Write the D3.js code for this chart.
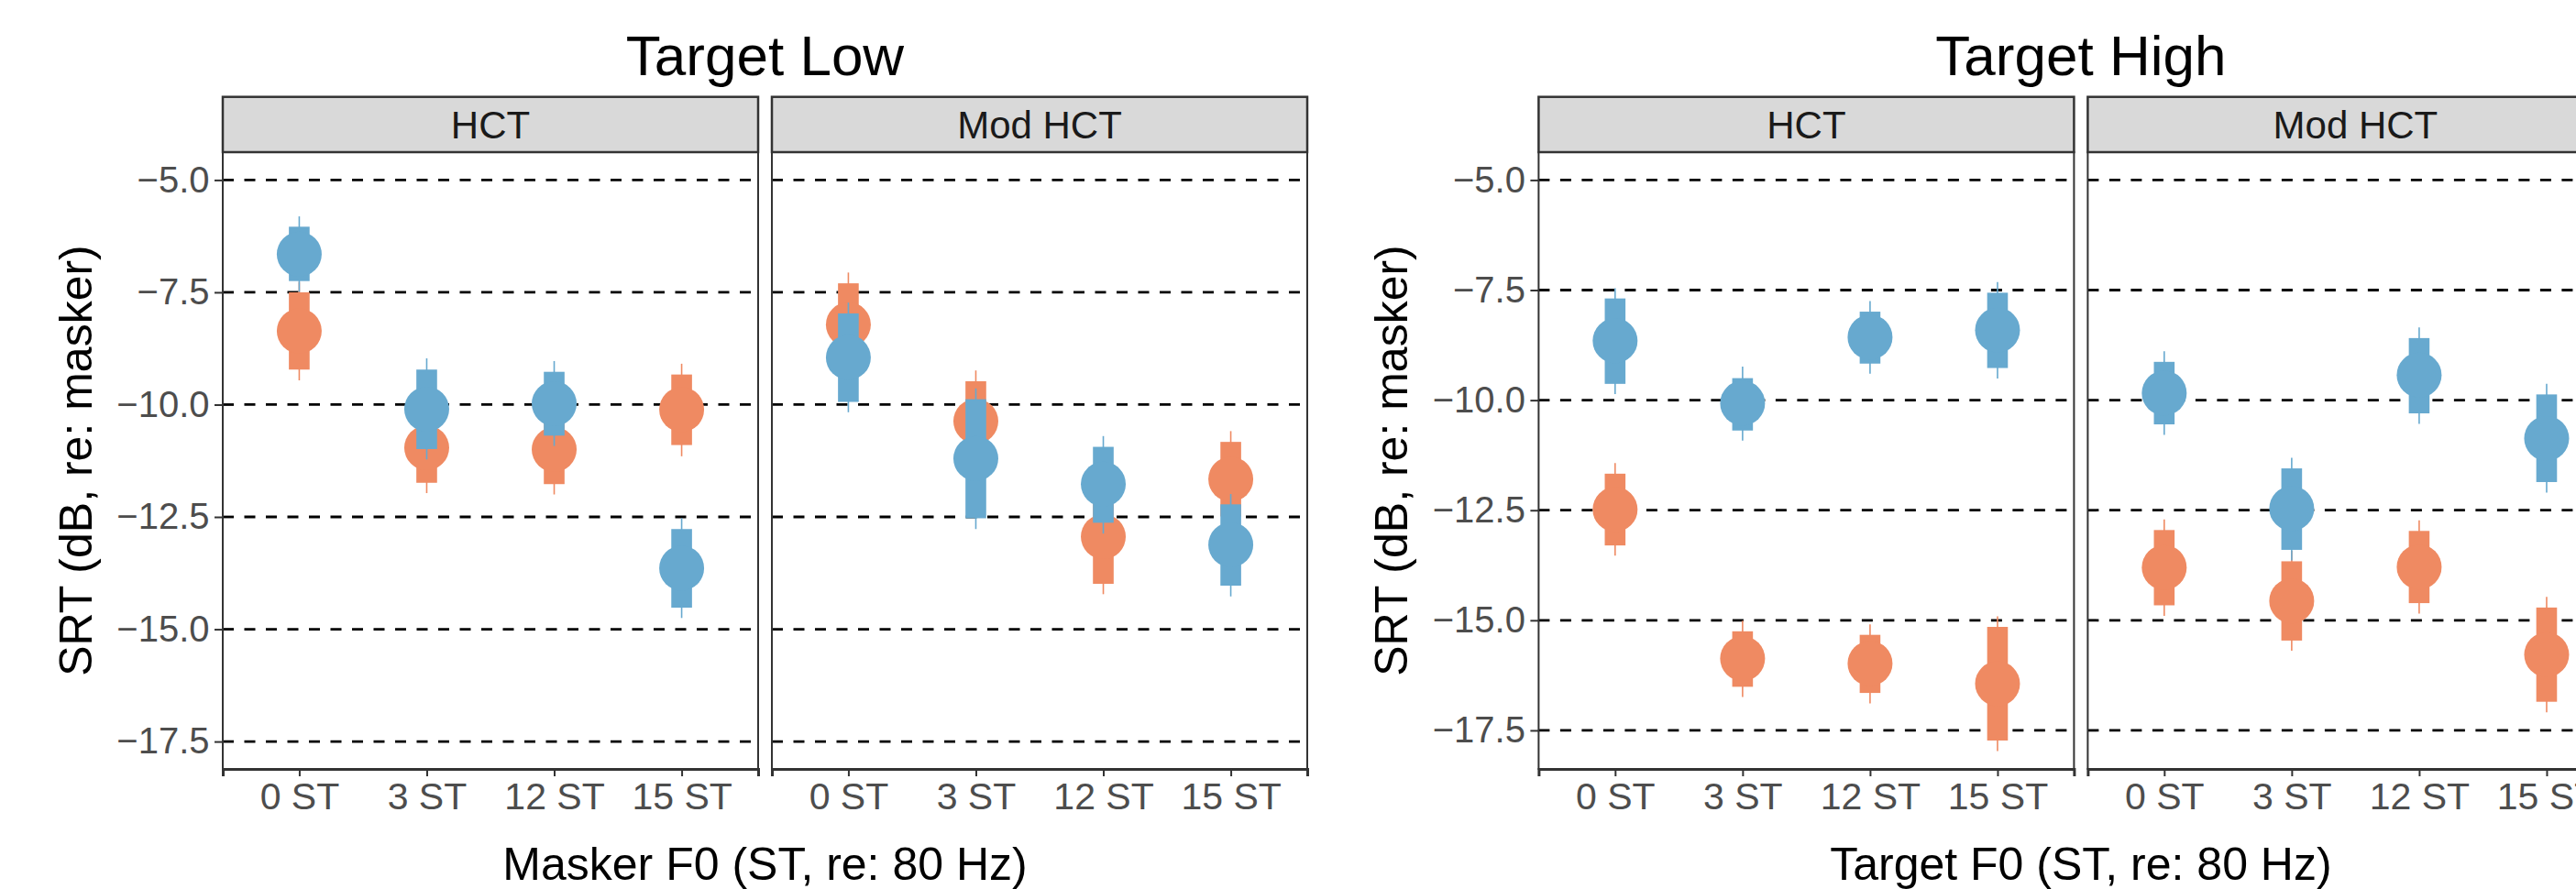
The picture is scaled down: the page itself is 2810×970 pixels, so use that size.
<!DOCTYPE html>
<html>
<head>
<meta charset="utf-8">
<script src="https://cdn.jsdelivr.net/npm/d3@7"></script>
<style>
  html, body { margin: 0; padding: 0; background: #fff; }
  svg { display: block; font-family: "Liberation Sans", Arial, sans-serif; }
</style>
</head>
<body>
<div id="chart"></div>
<script>
// x categories and y ticks
const f0Labels = ['0 ST', '3 ST', '12 ST', '15 ST'];
const yTicks = [-5, -7.5, -10, -12.5, -15, -17.5];
const panelNames = ['HCT', 'Mod HCT'];

// each row: [median, thick low, thick high, thin low, thin high] per F0 category
// Target Low
const lowHctOrange = [[-8.36, -7.50, -9.22, -7.27, -9.46], [-10.96, -10.18, -11.74, -9.95, -11.97], [-11.00, -10.23, -11.77, -10.00, -12.00], [-10.11, -9.33, -10.90, -9.09, -11.15]];
const lowHctBlue = [[-6.65, -6.04, -7.25, -5.81, -7.49], [-10.10, -9.22, -10.99, -8.97, -11.22], [-9.98, -9.27, -10.69, -9.03, -10.92], [-13.64, -12.77, -14.52, -12.53, -14.75]];
const lowModOrange = [[-8.22, -7.30, -9.14, -7.06, -9.38], [-10.37, -9.48, -11.26, -9.24, -11.50], [-12.94, -11.89, -13.99, -11.66, -14.22], [-11.66, -10.83, -12.49, -10.59, -12.73]];
const lowModBlue = [[-8.95, -7.97, -9.94, -7.73, -10.17], [-11.20, -9.88, -12.53, -9.64, -12.77], [-11.77, -10.94, -12.63, -10.70, -12.87], [-13.12, -12.22, -14.03, -11.99, -14.27]];
// Target High
const highHctOrange = [[-12.48, -11.67, -13.30, -11.43, -13.53], [-15.87, -15.25, -16.51, -15.01, -16.74], [-15.98, -15.33, -16.65, -15.09, -16.89], [-16.44, -15.15, -17.73, -14.91, -17.97]];
const highHctBlue = [[-8.65, -7.69, -9.63, -7.46, -9.86], [-10.07, -9.50, -10.69, -9.24, -10.92], [-8.57, -7.99, -9.17, -7.75, -9.40], [-8.41, -7.56, -9.27, -7.32, -9.51]];
const highModOrange = [[-13.80, -12.95, -14.66, -12.71, -14.90], [-14.56, -13.66, -15.46, -13.42, -15.69], [-13.79, -12.97, -14.61, -12.73, -14.85], [-15.78, -14.71, -16.85, -14.47, -17.09]];
const highModBlue = [[-9.84, -9.13, -10.55, -8.89, -10.79], [-12.46, -11.55, -13.40, -11.31, -13.64], [-9.43, -8.59, -10.30, -8.35, -10.54], [-10.87, -9.87, -11.86, -9.63, -12.10]];

const orange = '#EF8A62';
const blue = '#67A9CF';

const width = 2810, height = 970;
const panelW = 584, panelGap = 15;
const stripTop = 105.7, panelTop = 166, panelBottom = 839;

const charts = [
    { title: 'Target Low', xTitle: 'Masker F0 (ST, re: 80 Hz)', left: 243, yDomain: [-18.11, -4.38],
      panels: [[lowHctOrange, lowHctBlue], [lowModOrange, lowModBlue]] },
    { title: 'Target High', xTitle: 'Target F0 (ST, re: 80 Hz)', left: 1678.4, yDomain: [-18.376, -4.367],
      panels: [[highHctOrange, highHctBlue], [highModOrange, highModBlue]] }
];

const svg = d3.select('#chart')
    .append('svg')
    .attr('width', width)
    .attr('height', height)
    .attr('viewBox', `0 0 ${width} ${height}`);

svg.append('rect').attr('width', width).attr('height', height).attr('fill', '#fff');

charts.forEach(chart => {
    const g = svg.append('g');
    const y = d3.scaleLinear().domain(chart.yDomain).range([panelBottom, panelTop]);
    const totalW = panelW * 2 + panelGap;
    const centerX = chart.left + totalW / 2;

    // Title
    g.append('text')
        .attr('x', centerX)
        .attr('y', 81.7)
        .attr('text-anchor', 'middle')
        .attr('font-size', 62)
        .attr('fill', '#000')
        .text(chart.title);

    // Y axis title
    g.append('text')
        .attr('transform', `translate(${chart.left - 143}, ${(panelTop + panelBottom) / 2}) rotate(-90)`)
        .attr('text-anchor', 'middle')
        .attr('font-size', 50)
        .attr('fill', '#000')
        .text('SRT (dB, re: masker)');

    // X axis title
    g.append('text')
        .attr('x', centerX)
        .attr('y', 960)
        .attr('text-anchor', 'middle')
        .attr('font-size', 50)
        .attr('fill', '#000')
        .text(chart.xTitle);

    // Y axis (only left of the first panel)
    const yAxis = g.append('g')
        .attr('transform', `translate(${chart.left}, 0)`)
        .call(d3.axisLeft(y).tickValues(yTicks).tickFormat(d3.format('.1f')).tickSize(9).tickPadding(5.5));
    yAxis.select('.domain').remove();
    yAxis.selectAll('.tick line').attr('stroke', '#333').attr('stroke-width', 2);
    yAxis.selectAll('.tick text')
        .attr('font-size', 40)
        .attr('fill', '#4D4D4D')
        .attr('font-family', '"Liberation Sans", Arial, sans-serif')
        .text(d => d3.format('.1f')(d).replace('-', '\u2212'));

    chart.panels.forEach((groups, pi) => {
        const px = chart.left + pi * (panelW + panelGap);
        const x = d3.scalePoint().domain(f0Labels).range([px, px + panelW]).padding(0.6);
        const pg = g.append('g');

        // Strip
        pg.append('rect')
            .attr('x', px)
            .attr('y', stripTop)
            .attr('width', panelW)
            .attr('height', panelTop - stripTop)
            .attr('fill', '#D9D9D9')
            .attr('stroke', '#333')
            .attr('stroke-width', 2.5);
        pg.append('text')
            .attr('x', px + panelW / 2)
            .attr('y', 151)
            .attr('text-anchor', 'middle')
            .attr('font-size', 42)
            .attr('fill', '#1A1A1A')
            .text(panelNames[pi]);

        // Dashed gridlines
        pg.selectAll('line.grid')
            .data(yTicks)
            .join('line')
            .attr('class', 'grid')
            .attr('x1', px)
            .attr('x2', px + panelW)
            .attr('y1', d => y(d))
            .attr('y2', d => y(d))
            .attr('stroke', '#000')
            .attr('stroke-width', 2.8)
            .attr('stroke-dasharray', '12,11.5');

        // Intervals and points, orange first then blue
        groups.forEach((rows, gi) => {
            const col = gi === 0 ? orange : blue;
            const mg = pg.append('g');
            rows.forEach((r, i) => {
                const cx = x(f0Labels[i]);
                mg.append('line')
                    .attr('x1', cx).attr('x2', cx)
                    .attr('y1', y(r[3])).attr('y2', y(r[4]))
                    .attr('stroke', col)
                    .attr('stroke-width', 1.6);
                mg.append('rect')
                    .attr('x', cx - 11.3)
                    .attr('width', 22.6)
                    .attr('y', y(r[1]))
                    .attr('height', y(r[2]) - y(r[1]))
                    .attr('fill', col);
                mg.append('circle')
                    .attr('cx', cx)
                    .attr('cy', y(r[0]))
                    .attr('r', 24.5)
                    .attr('fill', col);
            });
        });

        // Panel border
        pg.append('rect')
            .attr('x', px)
            .attr('y', panelTop)
            .attr('width', panelW)
            .attr('height', panelBottom - panelTop)
            .attr('fill', 'none')
            .attr('stroke', '#333')
            .attr('stroke-width', 2);

        // X axis
        const xAxis = pg.append('g')
            .attr('transform', `translate(0, ${panelBottom})`)
            .call(d3.axisBottom(x).tickSize(8).tickPadding(7));
        xAxis.select('.domain').attr('stroke', '#333').attr('stroke-width', 3);
        xAxis.selectAll('.tick line').attr('stroke', '#333').attr('stroke-width', 2);
        xAxis.selectAll('.tick text')
            .attr('font-size', 41)
            .attr('fill', '#4D4D4D')
            .attr('font-family', '"Liberation Sans", Arial, sans-serif')
            .attr('dy', '0.71em');
    });
});
</script>
</body>
</html>
